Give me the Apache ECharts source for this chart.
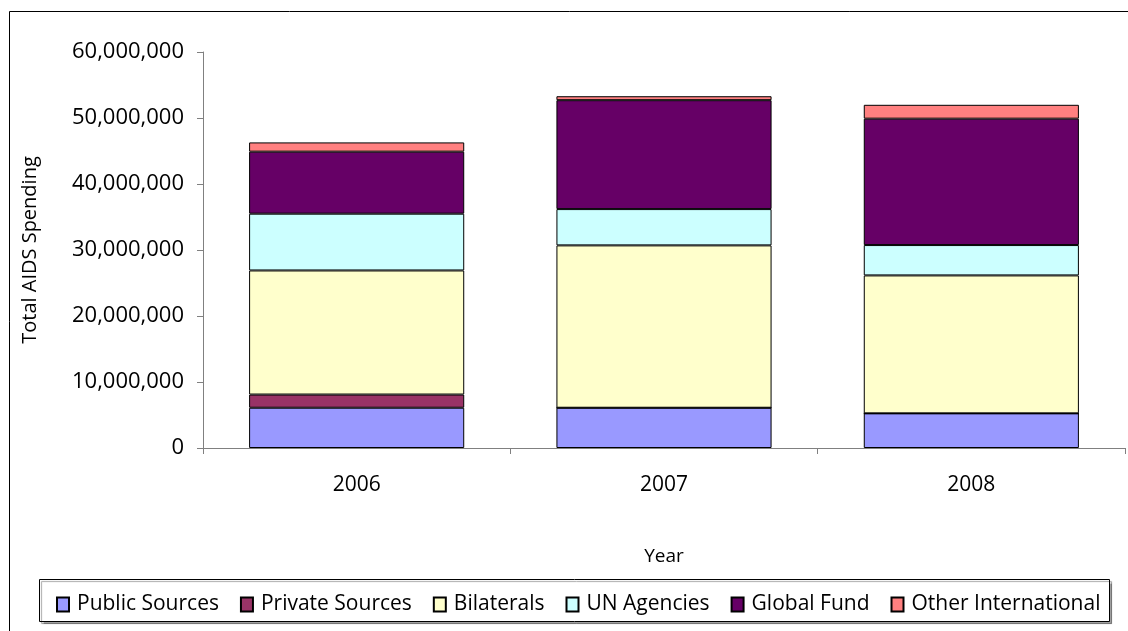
<!DOCTYPE html>
<html>
<head>
<meta charset="utf-8">
<script src="https://cdn.jsdelivr.net/npm/echarts@6/dist/echarts.min.js"></script>
<style>
  html, body { margin: 0; padding: 0; background: #fff; }
  #chart { width: 1128px; height: 631px; }
</style>
</head>
<body>
<div id="chart"></div>
<script>
// data (values in dollars)
let years = ['2006', '2007', '2008']
let publicSources = [6100000, 6100000, 5250000]
let privateSources = [2000000, 0, 0]
let bilaterals = [18800000, 24600000, 20900000]
let unAgencies = [8600000, 5500000, 4600000]
let globalFund = [9400000, 16500000, 19150000]
let otherInternational = [1400000, 600000, 2100000]

let font = 'Open Sans'

function mkSeries(name, data, color) {
  return {
    name: name,
    type: 'bar',
    stack: 'total',
    barCategoryGap: '30%',
    data: data,
    itemStyle: { color: color, borderColor: '#000', borderWidth: 1 }
  }
}

let chart = echarts.init(document.getElementById('chart'))
chart.setOption({
  animation: false,
  backgroundColor: '#fff',
  textStyle: { fontFamily: font },
  graphic: [
    {
      type: 'rect',
      shape: { x: 9.5, y: 11.5, width: 1140, height: 640 },
      style: { fill: 'none', stroke: '#000', lineWidth: 1 },
      z: -1
    },
    {
      type: 'rect',
      shape: { x: 39.5, y: 579.5, width: 1070, height: 42 },
      style: { fill: '#fff', stroke: '#000', lineWidth: 1, shadowColor: 'rgba(0,0,0,0.35)', shadowOffsetX: 2, shadowOffsetY: 2, shadowBlur: 1 },
      z: 0
    }
  ],
  legend: {
    left: 51,
    top: 589,
    icon: 'rect',
    itemWidth: 12,
    itemHeight: 14,
    itemGap: 21,
    textStyle: { fontFamily: font, fontSize: 21, color: '#000', padding: [0, 0, 0, 3] },
    z: 5
  },
  grid: { left: 203, right: 3, top: 52, bottom: 183 },
  xAxis: {
    type: 'category',
    data: years,
    name: 'Year',
    nameLocation: 'middle',
    nameGap: 99,
    nameTextStyle: { fontFamily: font, fontSize: 19, color: '#000' },
    axisLine: { lineStyle: { color: '#808080', width: 1 } },
    axisTick: { show: true, length: 6, inside: false, lineStyle: { color: '#808080' } },
    axisLabel: { fontFamily: font, fontSize: 21, color: '#000', margin: 27 }
  },
  yAxis: {
    type: 'value',
    min: 0,
    max: 60000000,
    interval: 10000000,
    name: 'Total AIDS Spending',
    nameLocation: 'middle',
    nameGap: 163,
    nameTextStyle: { fontFamily: font, fontSize: 20, color: '#000' },
    axisLine: { show: true, lineStyle: { color: '#808080', width: 1 } },
    axisTick: { show: true, length: 6, lineStyle: { color: '#808080' } },
    splitLine: { show: false },
    axisLabel: {
      fontFamily: font, fontSize: 22, color: '#000', margin: 19,
      formatter: v => v.toLocaleString('en-US')
    }
  },
  series: [
    mkSeries('Public Sources', publicSources, '#9999FF'),
    mkSeries('Private Sources', privateSources, '#993366'),
    mkSeries('Bilaterals', bilaterals, '#FFFFCC'),
    mkSeries('UN Agencies', unAgencies, '#CCFFFF'),
    mkSeries('Global Fund', globalFund, '#660066'),
    mkSeries('Other International', otherInternational, '#FF8080')
  ]
})
</script>
</body>
</html>
